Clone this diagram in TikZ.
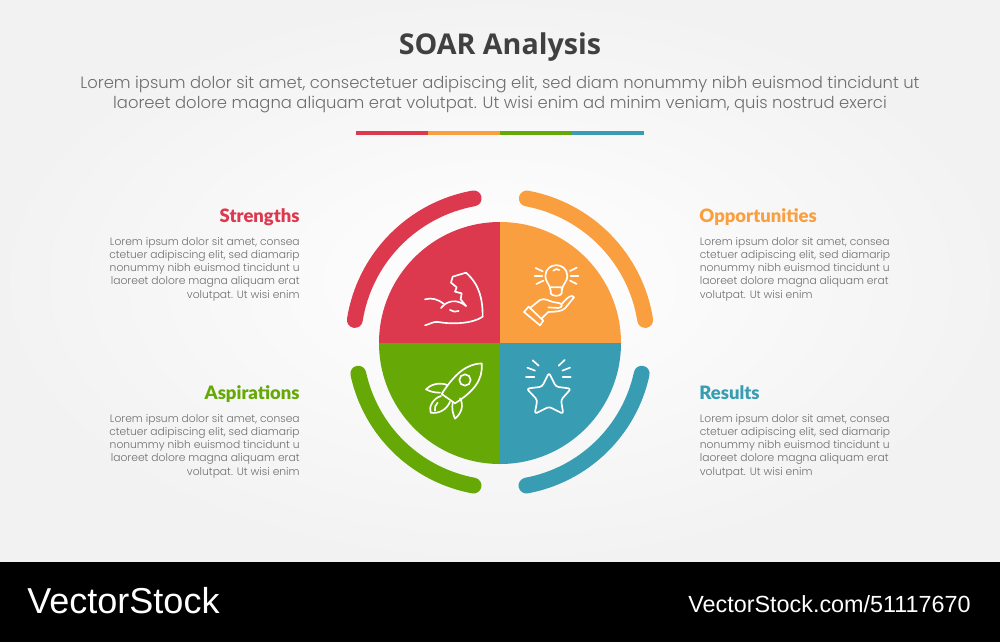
\documentclass[tikz,border=0pt]{standalone}
\usepackage{fontspec}
\setmainfont{Poppins Light}
\newfontfamily\titlefont{Open Sans}
\newfontfamily\headfont{Lato Black}
\newfontfamily\stockfont{Liberation Sans}
\definecolor{redc}{HTML}{DC394E}
\definecolor{orangec}{HTML}{FA9F3F}
\definecolor{greenc}{HTML}{66A907}
\definecolor{bluec}{HTML}{389DB3}
\definecolor{textc}{HTML}{6E6E6E}
\tikzset{
    ring/.style={line width=9pt,line cap=round},
    icon/.style={white,line width=0.95pt,line cap=round,line join=round},
    head/.style={font=\headfont\fontsize{10.5}{12}\selectfont,inner sep=0pt},
    body/.style={font=\fontsize{6.1}{7.5}\selectfont,text=textc,inner sep=0pt},
    lefttext/.style={body,align=right,anchor=north east},
    righttext/.style={body,align=left,anchor=north west},
}
\begin{document}
\begin{tikzpicture}[x=0.02cm,y=-0.02cm]
    \useasboundingbox (0,0) rectangle (1000,642);
    \shade[inner color=white,outer color=white!95!black] (0,0) rectangle (1000,562);
    \fill[black] (0,562) rectangle (1000,642);

    \node[font=\titlefont\bfseries\fontsize{16.3}{20}\selectfont,text=black!75,inner sep=0pt] (title) at (500,47) {SOAR Analysis};
    \node[font=\fontsize{9.33}{11.7}\selectfont,text=textc,align=center,inner sep=0pt] (subtitle) at (500,94.5) {Lorem ipsum dolor sit amet, consectetuer adipiscing elit, sed diam nonummy nibh euismod tincidunt ut\\laoreet dolore magna aliquam erat volutpat. Ut wisi enim ad minim veniam, quis nostrud exerci};

    \fill[redc] (356,131) rectangle (428,135);
    \fill[orangec] (428,131) rectangle (500,135);
    \fill[greenc] (500,131) rectangle (572,135);
    \fill[bluec] (572,131) rectangle (644,135);

    \fill[redc] (500,343) -- (379,343) arc[start angle=180,end angle=270,radius=121] -- cycle;
    \fill[orangec] (500,343) -- (500,222) arc[start angle=270,end angle=360,radius=121] -- cycle;
    \fill[greenc] (500,343) -- (500,464) arc[start angle=90,end angle=180,radius=121] -- cycle;
    \fill[bluec] (500,343) -- (621,343) arc[start angle=0,end angle=90,radius=121] -- cycle;

    \draw[ring,redc] (500,343) ++(189:147) arc[start angle=189,end angle=259.7,radius=147];
    \draw[ring,orangec] (500,343) ++(280.5:147) arc[start angle=280.5,end angle=351,radius=147];
    \draw[ring,greenc] (500,343) ++(167.8:145) arc[start angle=167.8,end angle=100.5,radius=145];
    \draw[ring,bluec] (500,343) ++(12.2:145) arc[start angle=12.2,end angle=79.5,radius=145];

    \begin{scope}[shift={(340,180)},scale=1/3]
        \draw[icon] (255,436) .. controls (270,432) and (280,424) .. (295,426) .. controls (340,434) and (400,430) .. (428,410) .. controls (428,360) and (420,315) .. (378,278) -- (338,290) -- (333,308) -- (350,322) -- (345,335) -- (365,340) -- (362,358) -- (378,378);
        \draw[icon] (255,358) .. controls (275,352) and (295,358) .. (312,372);
        \draw[icon] (303,384) .. controls (320,362) and (350,355) .. (378,378);
        \draw[icon] (330,390) .. controls (338,396) and (348,396) .. (356,393);

        \draw[icon] (632,332) .. controls (630,312) and (615,305) .. (616,287) .. controls (618,245) and (680,245) .. (682,287) .. controls (683,305) and (667,312) .. (665,332);
        \draw[icon] (632,332) -- (632,340) .. controls (635,350) and (662,350) .. (665,340) -- (665,322) (632,322) -- (665,322);
        \draw[icon] (640,272) .. controls (645,266) and (652,266) .. (658,270);
        \foreach \xa/\ya/\xb/\yb in {587/264/608/274,584/288/607/288,589/312/610/302,710/263/690/273,715/288/692/288,710/312/690/302}
            \draw[icon] (\xa,\ya) -- (\xb,\yb);
        \draw[icon] (552,396) -- (566,380) -- (610,422) -- (600,436) -- cycle;
        \draw[icon] (570,384) -- (600,360) .. controls (615,352) and (625,365) .. (650,368) .. controls (670,370) and (670,382) .. (655,384) -- (625,382);
        \draw[icon] (604,416) -- (625,396) .. controls (645,395) and (665,395) .. (675,385) -- (702,352) .. controls (695,342) and (685,350) .. (665,372);

        \draw[icon] (425,550) .. controls (380,552) and (345,580) .. (305,642) -- (345,670) .. controls (400,635) and (430,600) .. (425,550);
        \draw[icon] (375,600) circle[radius=17];
        \draw[icon] (322,615) .. controls (295,605) and (270,615) .. (258,628) .. controls (270,635) and (285,638) .. (300,638);
        \draw[icon] (360,655) .. controls (372,675) and (365,700) .. (345,716) .. controls (338,700) and (335,685) .. (338,668);
        \draw[icon] (303,648) .. controls (280,655) and (265,680) .. (272,698) .. controls (295,702) and (320,690) .. (330,665);
        \draw[icon] (285,692) .. controls (283,682) and (286,675) .. (293,668);

        \draw[icon,rounded corners=1.5] (627,578) -- (648,620) -- (693,626) -- (663,660) -- (670,702) -- (627,680) -- (584,702) -- (592,660) -- (560,626) -- (606,620) -- cycle;
        \foreach \xa/\ya/\xb/\yb in {578/541/596/557,562/563/585/572,558/590/583/590,674/540/656/557,690/563/667/572,692/590/668/590}
            \draw[icon] (\xa,\ya) -- (\xb,\yb);
    \end{scope}

    \node[head,text=redc,anchor=base east] (strengths) at (300,222) {Strengths};
    \node[head,text=orangec,anchor=base west] (opportunities) at (699,222) {Opportunities};
    \node[head,text=greenc,anchor=base east] (aspirations) at (300,399) {Aspirations};
    \node[head,text=bluec,anchor=base west] (results) at (699,399) {Results};

    \node[lefttext] (strengthstext) at (300,237) {Lorem ipsum dolor sit amet, consea\\ctetuer adipiscing elit, sed diamarip\\nonummy nibh euismod tincidunt u\\laoreet dolore magna aliquam erat\\volutpat. Ut wisi enim};
    \node[righttext] (opportunitiestext) at (699.5,237) {Lorem ipsum dolor sit amet, consea\\ctetuer adipiscing elit, sed diamarip\\nonummy nibh euismod tincidunt u\\laoreet dolore magna aliquam erat\\volutpat. Ut wisi enim};
    \node[lefttext] (aspirationstext) at (300,414) {Lorem ipsum dolor sit amet, consea\\ctetuer adipiscing elit, sed diamarip\\nonummy nibh euismod tincidunt u\\laoreet dolore magna aliquam erat\\volutpat. Ut wisi enim};
    \node[righttext] (resultstext) at (699.5,414) {Lorem ipsum dolor sit amet, consea\\ctetuer adipiscing elit, sed diamarip\\nonummy nibh euismod tincidunt u\\laoreet dolore magna aliquam erat\\volutpat. Ut wisi enim};

    \node[font=\stockfont\fontsize{20.5}{24}\selectfont,text=white,inner sep=0pt,anchor=west] (logo) at (27,601) {VectorStock};
    \node[font=\stockfont\fontsize{13.3}{16}\selectfont,text=white,inner sep=0pt,anchor=east] (stockid) at (971,604) {VectorStock.com/51117670};
\end{tikzpicture}
\end{document}
